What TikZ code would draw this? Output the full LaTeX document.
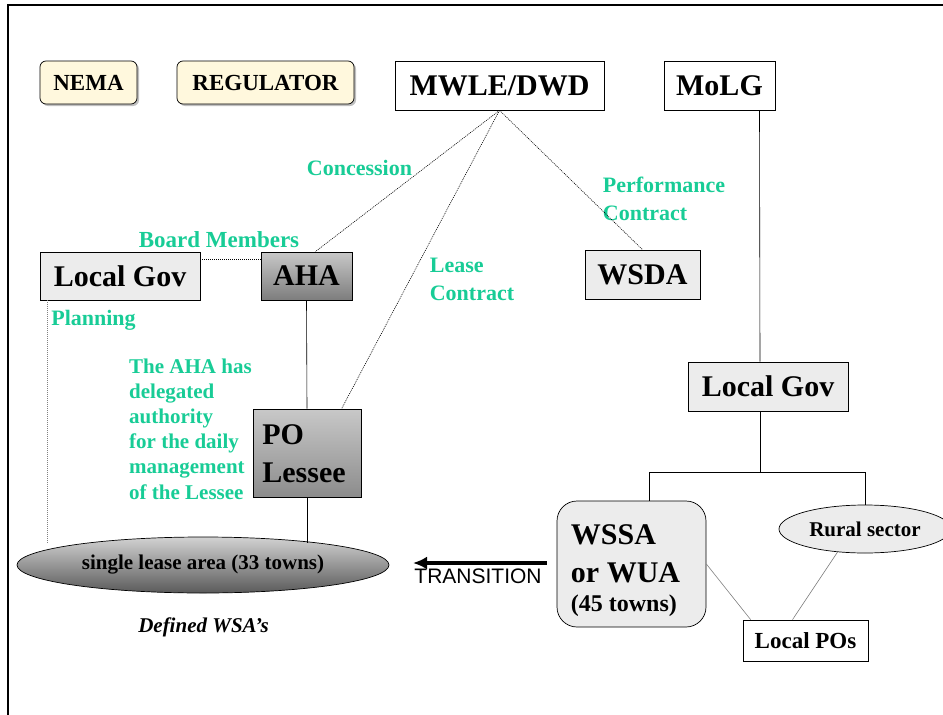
\documentclass[tikz,border=0pt]{standalone}
\usepackage{fontspec}
\setmainfont{Liberation Serif}
\newfontfamily\transfont{Liberation Sans}
\usetikzlibrary{arrows.meta, shapes.geometric, shadows, calc}

\definecolor{labelgreen}{RGB}{24,204,150}
\definecolor{paleyellow}{RGB}{255,248,221}
\definecolor{granite}{RGB}{236,236,236}
\definecolor{ahatop}{RGB}{200,200,200}
\definecolor{ahabot}{RGB}{125,125,125}
\definecolor{potop}{RGB}{200,200,200}
\definecolor{pobot}{RGB}{140,140,140}
\definecolor{leasetop}{RGB}{210,210,210}
\definecolor{leasebot}{RGB}{90,90,90}

\begin{document}
\begin{tikzpicture}[x=1pt, y=-1pt,
  tag/.style={draw, line width=0.7pt, rounded corners=6pt, fill=paleyellow, inner sep=0pt,
    drop shadow={shadow xshift=2pt, shadow yshift=-2pt, opacity=0.5},
    font=\bfseries\fontsize{23}{26}\selectfont},
  box/.style={draw, line width=0.7pt, inner sep=0pt, font=\bfseries\fontsize{30}{38}\selectfont},
  note/.style={text=labelgreen, inner sep=0pt, align=left,
    font=\bfseries\fontsize{22}{28}\selectfont},
  link/.style={line width=0.6pt, dash pattern=on 1pt off 1pt},
  wire/.style={line width=0.6pt}]
\useasboundingbox (0,0) rectangle (943,715);
\draw [line width=1.5pt] (8,715) -- (8,5) -- (943,5);

% top row
\node (nema) at (88.5,82.5) [tag, minimum width=97, minimum height=43] {NEMA};
\node (reg) at (265.5,82.5) [tag, minimum width=177, minimum height=43] {REGULATOR};
\node (mwle) at (499.5,85.5) [box, fill=white, minimum width=209, minimum height=49] {MWLE/DWD};
\node (molg) at (719.5,85.5) [box, fill=white, minimum width=111, minimum height=49] {MoLG};

% middle
\node (govL) at (120,276) [box, fill=granite, minimum width=160, minimum height=48] {Local Gov};
\node (aha) at (306.5,276) [box, top color=ahatop, bottom color=ahabot, minimum width=91, minimum height=48] {AHA};
\node (wsda) at (642.5,274.5) [box, fill=granite, minimum width=115, minimum height=49] {WSDA};
\node (govR) at (768,386.5) [box, fill=granite, minimum width=160, minimum height=49] {Local Gov};
\node (po) at (307,453) [box, align=left, top color=potop, bottom color=pobot, minimum width=108, minimum height=88] {\hspace*{-3pt}\raisebox{-3pt}[\height][\depth]{\begin{tabular}{@{}l@{}}PO\\Lessee\end{tabular}}\hspace*{3pt}};

% bottom
\node (lease) at (203,565) [ellipse, draw, line width=0.7pt, top color=leasetop, bottom color=leasebot, minimum width=372, minimum height=56, inner sep=0pt, font=\bfseries\fontsize{21}{25}\selectfont] {single lease area (33 towns)};
\node (wssa) at (631.5,564) [box, rounded corners=20pt, fill=granite, minimum width=149, minimum height=126] {\hspace*{-6pt}\raisebox{-6pt}[\height][\depth]{\begin{tabular}{@{}l@{}}WSSA\\or WUA\\[-9pt]{\fontsize{24}{28}\selectfont (45 towns)}\end{tabular}}\hspace*{6pt}};
\node (rural) at (865,529) [ellipse, draw, line width=0.7pt, fill=granite, minimum width=172, minimum height=48, inner sep=0pt, font=\bfseries\fontsize{21}{25}\selectfont] {Rural sector};
\node (lpos) at (805.5,640.5) [draw, line width=0.7pt, fill=white, minimum width=125, minimum height=41, inner sep=0pt, font=\bfseries\fontsize{23}{27}\selectfont] {Local POs};

% labels
\node (concession) at (359.5,168) [note] {Concession};
\node (perf) at (664,199) [note] {Performance\\Contract};
\node (board) at (219,240) [note, font=\bfseries\fontsize{23}{28}\selectfont] {Board Members};
\node (leasec) at (472,279) [note] {Lease\\Contract};
\node (planning) at (93.5,320) [note] {Planning};
\node (delegated) at (190.5,429) [note, font=\bfseries\fontsize{21}{25.2}\selectfont] {The AHA has\\delegated\\authority\\for the daily\\management\\of the Lessee};
\node (wsas) at (203.5,627) [font=\bfseries\itshape\fontsize{21}{25}\selectfont] {Defined WSA's};
\node (trans) at (478,576) [font=\transfont\fontsize{21}{24}\selectfont] {TRANSITION};
\coordinate (transend) at (413,563);

% connectors
\draw [link] (mwle.south) -- (aha.70);
\draw [link] (mwle.south) -- (po.52);
\draw [link] (mwle.south) -- (wsda.north);
\draw [wire] ($(molg.south)+(40,0)$) -- ($(govR.north)+(-8,0)$);
\draw [link, gray] ($(wsda.south east)+(-3,0)$) -- ($(wsda.south east)+(-3,0)$ |- govR.north);
\draw [line width=1.4pt, dash pattern=on 2pt off 1pt] ($(wsda.south)+(-25,0)$) -- ($(wsda.south)+(-25,0)$ |- wssa.north);
\draw [wire] ($(govR.south)+(-8,0)$) -- ++(0,62);
\draw [wire] ($(wssa.north)+(18,0)$) -- ++(0,-28) -| (rural.north);
\draw [wire, gray] (wssa.east) -- ($(lpos.north west)+(8,0)$);
\draw [wire, gray] (rural.220) -- ($(lpos.north)+(-13,0)$);
\draw [link] ($(govL.east)+(0,-17)$) -- ($(aha.west)+(0,-17)$);
\draw [link, gray] ($(govL.south west)+(8,0)$) -- ++(0,243);
\draw [wire] (aha.south) -- (po.north);
\draw [wire] (po.south) -- ++(0,46);
\draw [-{Latex[length=14pt, width=13pt]}, line width=3.5pt] ($(wssa.west)+(-10,-1)$) -- (transend);
\end{tikzpicture}
\end{document}
